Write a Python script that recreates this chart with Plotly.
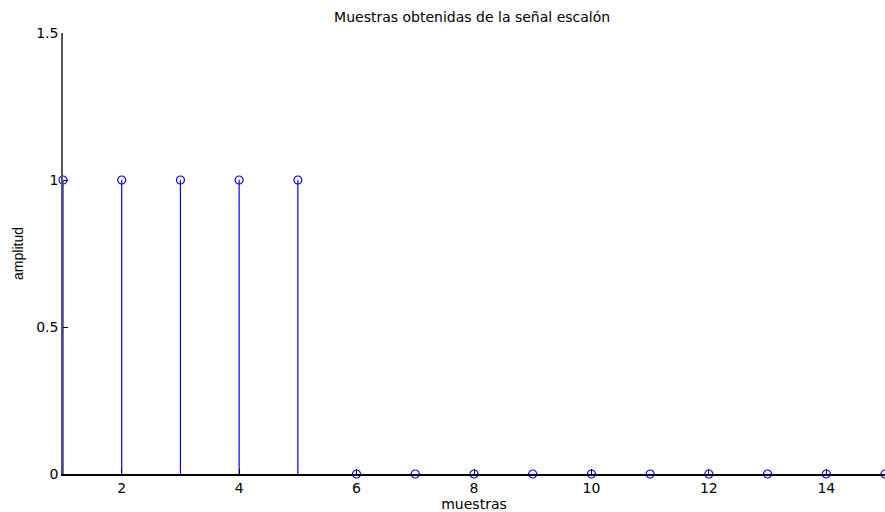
import plotly.graph_objects as go

# Sample indices and sampled step amplitudes
muestras = list(range(1, 16))
amplitud = [1, 1, 1, 1, 1, 0, 0, 0, 0, 0, 0, 0, 0, 0, 0]

y_ticks = [0, 0.5, 1, 1.5]
y_tick_text = ["0", "0.5", "1", "1.5"]
x_ticks = [2, 4, 6, 8, 10, 12, 14]

BLUE = "#0000ff"

# Stem lines: one segment from 0 to each sample value
stem_x, stem_y = [], []
for xi, yi in zip(muestras, amplitud):
    stem_x += [xi, xi, None]
    stem_y += [0, yi, None]

fig = go.Figure()
fig.add_trace(go.Scatter(
    x=stem_x, y=stem_y, mode="lines",
    line=dict(color=BLUE, width=1.2),
    hoverinfo="skip", showlegend=False,
))
fig.add_trace(go.Scatter(
    x=muestras, y=amplitud, mode="markers",
    marker=dict(symbol="circle-open", size=8, color=BLUE, line=dict(color=BLUE, width=1.2)),
    showlegend=False, cliponaxis=False,
))

font = dict(family="DejaVu Sans, sans-serif", size=14, color="#000000")
vfont = dict(family="Liberation Sans, Arial, sans-serif", size=14, color="#000000")

fig.update_layout(
    width=885, height=512,
    margin=dict(l=63, r=0, t=33, b=38),
    paper_bgcolor="white", plot_bgcolor="white",
    font=font,
    title=dict(
        text="Muestras obtenidas de la señal escalón",
        x=0.5335, xanchor="center", y=0.967, yanchor="middle",
        font=font,
    ),
    xaxis=dict(
        range=[1, 15], tickmode="array", tickvals=x_ticks,
        ticks="inside", ticklen=5, tickcolor="#000000", tickwidth=1,
        showline=True, linecolor="#000000", linewidth=1.5,
        showgrid=False, zeroline=False, mirror=False,
        title=dict(text="muestras", standoff=2, font=font),
        tickfont=font,
    ),
    yaxis=dict(
        range=[0, 1.5], tickmode="array", tickvals=y_ticks, ticktext=y_tick_text,
        ticks="inside", ticklen=5, tickcolor="#000000", tickwidth=1,
        showline=True, linecolor="#555555", linewidth=1.5,
        showgrid=False, zeroline=False, mirror=False,
        title=dict(text="amplitud", standoff=9, font=vfont),
        tickfont=font,
    ),
)

fig.write_html("out.html")
